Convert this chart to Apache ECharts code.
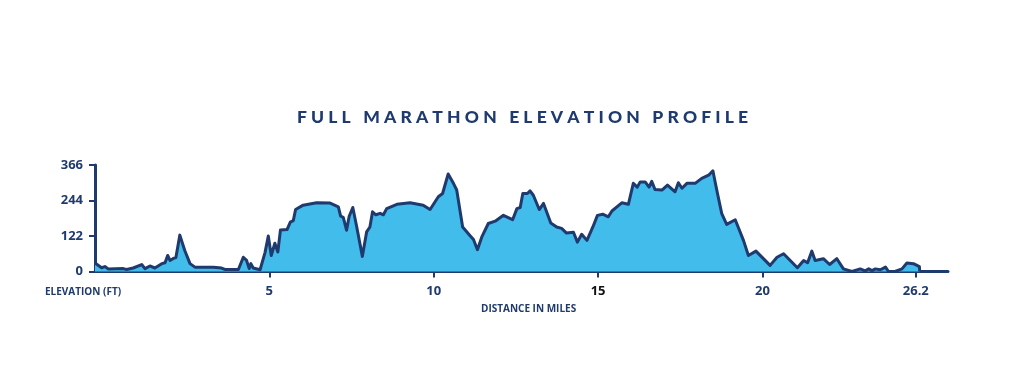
<!DOCTYPE html>
<html>
<head>
<meta charset="utf-8">
<script src="https://cdn.jsdelivr.net/npm/echarts@6/dist/echarts.min.js"></script>
<style>
html,body{margin:0;padding:0;background:#fff;}
#chart{width:1023px;height:367px;}
</style>
</head>
<body>
<div id="chart"></div>
<script>
// Distance along the course (chart miles) and elevation (ft)
const distance = [-0.30,-0.25,-0.10,0.00,0.10,0.56,0.66,0.86,1.12,1.22,1.37,1.52,1.73,1.83,1.91,1.98,2.08,2.16,2.28,2.43,2.59,2.74,2.99,3.30,3.55,3.65,4.06,4.21,4.31,4.39,4.44,4.51,4.72,4.87,4.97,5.06,5.17,5.26,5.34,5.54,5.64,5.73,5.80,6.03,6.44,6.85,7.10,7.17,7.25,7.35,7.43,7.54,7.66,7.83,7.96,8.06,8.14,8.24,8.37,8.47,8.57,8.88,9.28,9.68,9.89,10.14,10.27,10.44,10.60,10.70,10.88,11.10,11.21,11.33,11.46,11.66,11.87,12.12,12.25,12.40,12.53,12.63,12.71,12.85,12.93,13.03,13.21,13.34,13.56,13.74,13.89,14.04,14.25,14.37,14.50,14.66,14.84,14.98,15.14,15.31,15.42,15.57,15.72,15.92,16.07,16.19,16.28,16.43,16.55,16.63,16.73,16.94,17.11,17.34,17.44,17.55,17.70,17.95,18.15,18.36,18.49,18.63,18.76,18.91,19.17,19.42,19.57,19.80,20.23,20.44,20.64,21.06,21.25,21.37,21.50,21.60,21.85,22.04,22.26,22.46,22.72,22.97,23.12,23.23,23.33,23.43,23.58,23.74,23.83,24.03,24.24,24.39,24.59,24.77,24.78];
const elevation = [29,29,13,17,9,10,7,12,24,10,19,12,27,30,55,38,45,48,125,72,27,15,15,15,12,7,7,49,38,10,27,12,6,65,122,55,97,67,143,144,170,175,213,228,236,235,222,190,186,142,190,220,153,52,136,153,205,195,200,195,216,231,236,228,213,257,268,335,303,280,153,124,110,75,118,165,173,193,186,178,216,220,268,268,277,262,213,234,167,153,148,132,135,101,128,107,153,193,197,188,208,222,236,231,303,290,308,308,290,310,282,280,297,274,305,286,303,303,320,331,346,268,199,162,178,107,55,70,21,49,61,13,38,30,70,38,44,24,44,9,0,9,2,9,3,9,6,15,0,0,9,29,27,17,0];

const xTickValues = [5, 10, 15, 20, 24.66];
const xTickLabels = ['5', '10', '15', '20', '26.2'];
const yTickValues = [0, 122, 244, 366];

const NAVY = '#1e3a6e';
const FILL = '#42bcea';
const LABEL_FONT = '"Liberation Sans Narrow","Open Sans",sans-serif';

const chart = echarts.init(document.getElementById('chart'), null, {renderer: 'canvas'});

const titleText = 'FULL MARATHON ELEVATION PROFILE'
  .split(' ').map(w => w.split('').join(' ')).join('   ');

chart.setOption({
  animation: false,
  backgroundColor: '#ffffff',
  title: {
    text: titleText,
    left: 292,
    top: 103,
    textStyle: {
      fontFamily: 'Lato, "Open Sans", sans-serif',
      fontWeight: 900,
      fontSize: 17.5,
      color: NAVY
    }
  },
  grid: {left: 95, right: 75, top: 165, bottom: 95.5},
  xAxis: {
    type: 'value',
    min: -0.30,
    max: 25.64,
    splitLine: {show: false},
    axisLine: {onZero: false, lineStyle: {color: NAVY, width: 3}},
    axisTick: {show: true, customValues: xTickValues, length: 6, lineStyle: {color: NAVY, width: 2}},
    axisLabel: {
      customValues: xTickValues,
      margin: 13,
      formatter: function (v) {
        const i = xTickValues.indexOf(v);
        const t = i >= 0 ? xTickLabels[i] : String(v);
        return t === '15' ? '{k|' + t + '}' : '{n|' + t + '}';
      },
      rich: {
        n: {fontFamily: LABEL_FONT, fontWeight: 'bold', fontSize: 13, color: NAVY},
        k: {fontFamily: LABEL_FONT, fontWeight: 'bold', fontSize: 13, color: '#111111'}
      }
    }
  },
  yAxis: {
    type: 'value',
    min: 0,
    max: 366,
    splitLine: {show: false},
    axisLine: {show: true, onZero: false, lineStyle: {color: NAVY, width: 3}},
    axisTick: {show: true, customValues: yTickValues, length: 6, lineStyle: {color: NAVY, width: 2}},
    axisLabel: {
      customValues: yTickValues,
      margin: 12,
      fontFamily: LABEL_FONT,
      fontWeight: 'bold',
      fontSize: 13,
      color: NAVY
    }
  },
  series: [{
    type: 'line',
    data: distance.map((d, i) => [d, elevation[i]]),
    symbol: 'none',
    smooth: false,
    clip: true,
    lineStyle: {color: NAVY, width: 3, join: 'round'},
    areaStyle: {color: FILL, opacity: 1}
  }],
  graphic: [
    {
      type: 'text', left: 45, top: 287,
      style: {text: 'ELEVATION (FT)', fontFamily: LABEL_FONT, fontWeight: 'bold', fontSize: 10, fill: NAVY}
    },
    {
      type: 'text', left: 481, top: 304,
      style: {text: 'DISTANCE IN MILES', fontFamily: LABEL_FONT, fontWeight: 'bold', fontSize: 10, fill: NAVY}
    }
  ]
});
</script>
</body>
</html>
